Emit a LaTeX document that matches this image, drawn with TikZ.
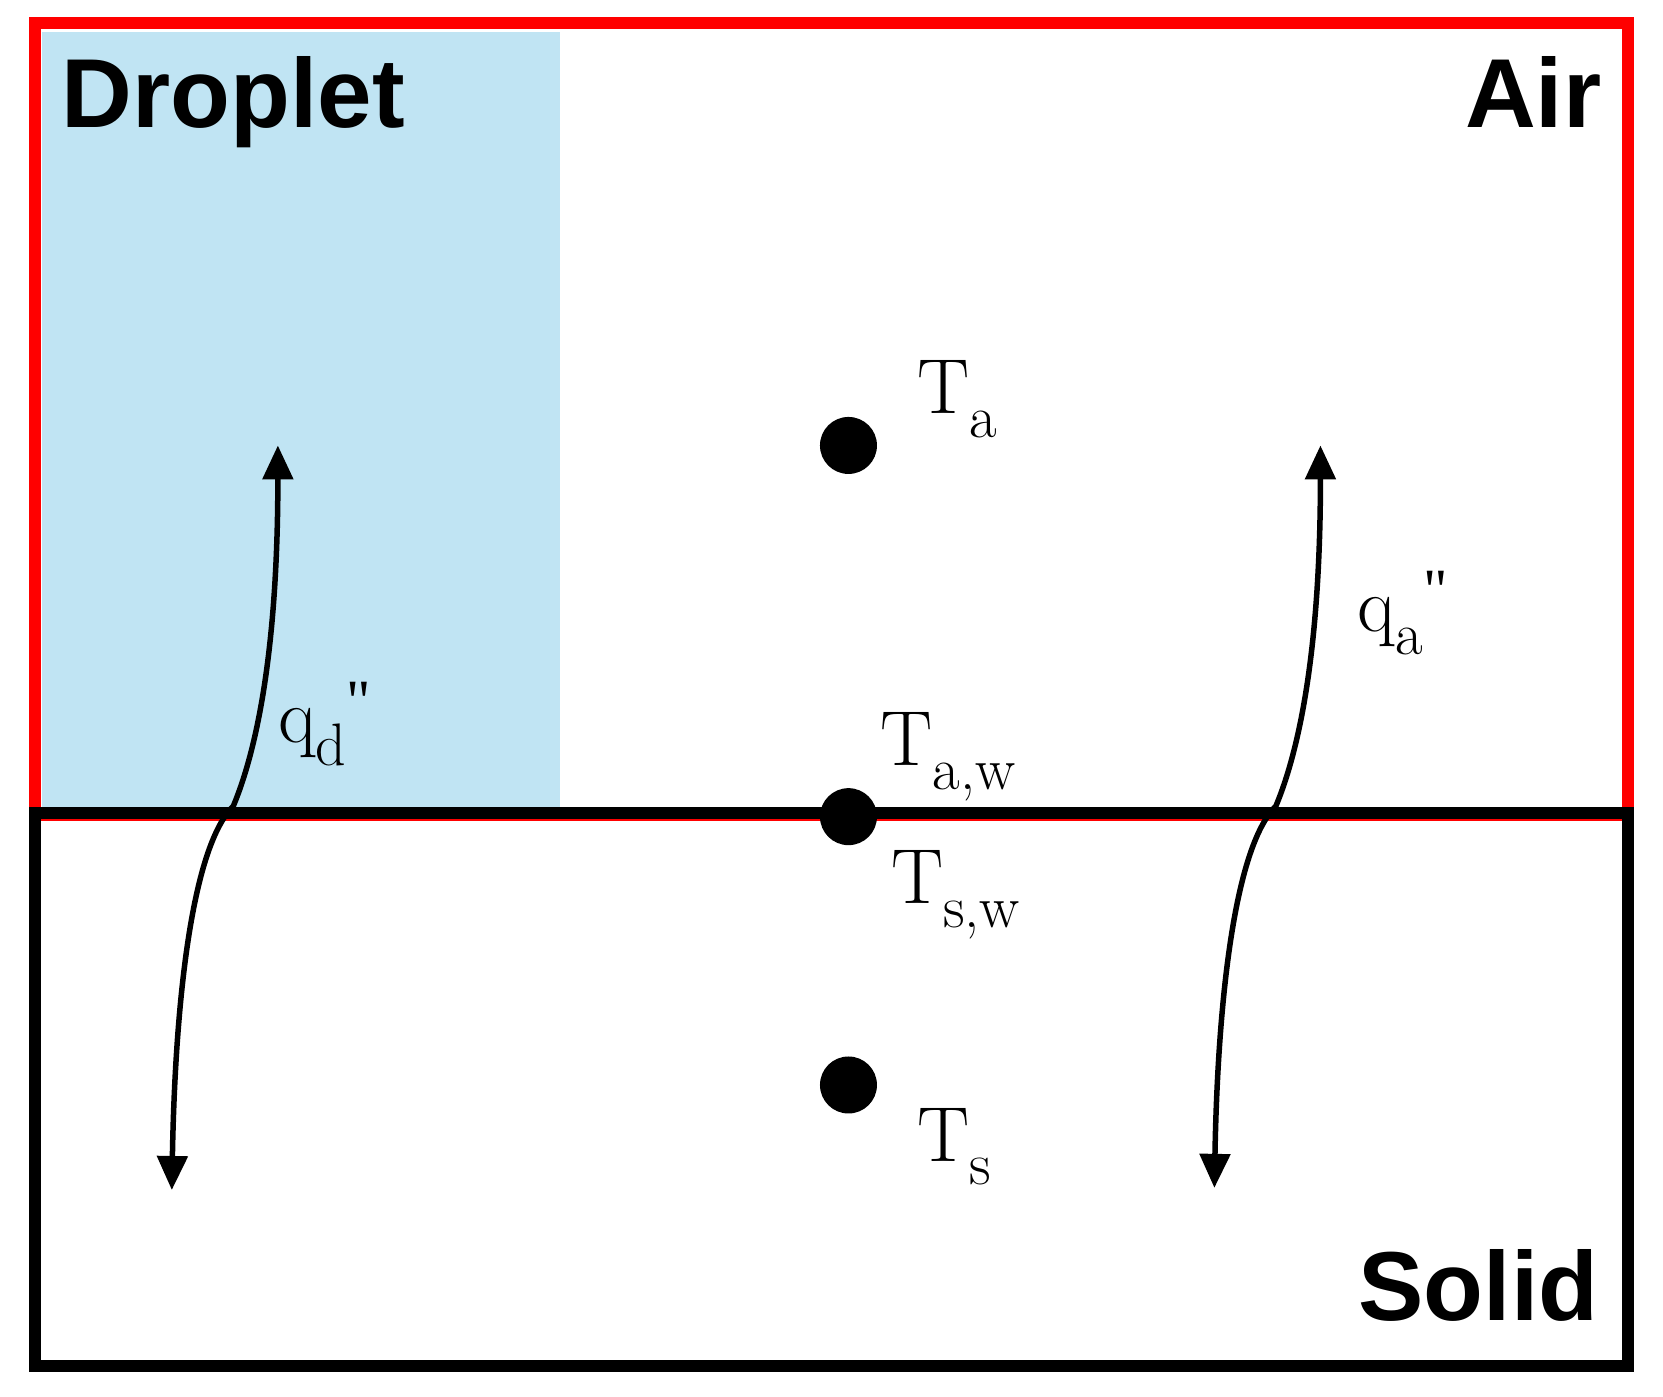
\documentclass[tikz,border=0pt]{standalone}
\usepackage{fontspec}
\setsansfont{Liberation Sans}
\newfontfamily\qfont{Liberation Serif}
\usetikzlibrary{arrows.meta}
\newcommand{\sbx}[1]{\raisebox{-0.3em}{\fontsize{60}{60}\selectfont #1}}
\newcommand{\dq}{{\qfont\fontsize{60}{60}\selectfont\raisebox{0.35em}{\symbol{34}}}}
\begin{document}
\begin{tikzpicture}[x=1.0606pt,y=-1.0606pt,
  lab/.style={font=\sffamily\bfseries\fontsize{98}{100}\selectfont,inner sep=0pt},
  tl/.style={font=\fontsize{78}{80}\selectfont,inner sep=0pt,anchor=base west},
  dot/.style={circle,fill=black,minimum size=57pt,inner sep=0pt},
  flux/.style={line width=5.5pt,{Triangle[width=30pt,length=34pt]}-{Triangle[width=30pt,length=34pt]}}]
\useasboundingbox (0,0) rectangle (1568,1317);
\fill[fill={rgb,255:red,192;green,228;blue,243}] (40,30) rectangle (528,762);
\draw[red,line width=12pt] (33,767) -- (33,22) -- (1535,22) -- (1535,767);
\draw[red,line width=3pt] (33,773) -- (1535,773);
\draw[black,line width=12pt] (33,767) rectangle (1535,1288);
\node[lab,anchor=base west] (drop) at (58,120) {Droplet};
\node[lab,anchor=base east] (air) at (1510,120) {Air};
\node[lab,anchor=base east] (solid) at (1507,1245) {Solid};
\node[dot] (ta) at (800,420) {};
\node[dot] (taw) at (800,770) {};
\node[dot] (ts) at (800,1023) {};
\node[tl] (lta) at (865,390) {T\sbx{a}};
\node[tl] (ltaw) at (830,722) {T\sbx{a,w}};
\node[tl] (ltsw) at (840,852) {T\sbx{s,w}};
\node[tl] (lts) at (865,1095) {T\sbx{s}};
\node[tl] (lqd) at (262,700) {q\sbx{d}\dq};
\node[tl] (lqa) at (1280,595) {q\sbx{a}\dq};
\coordinate (d1) at (262,420);
\coordinate (d2) at (162,1122);
\coordinate (a1) at (1245,420);
\coordinate (a2) at (1145,1120);
\draw[flux] (d1) .. controls (262,600) and (245,700) .. (220,760)
  .. controls (180,800) and (165,950) .. (d2);
\draw[flux] (a1) .. controls (1245,600) and (1228,700) .. (1203,760)
  .. controls (1163,800) and (1148,950) .. (a2);
\end{tikzpicture}
\end{document}
